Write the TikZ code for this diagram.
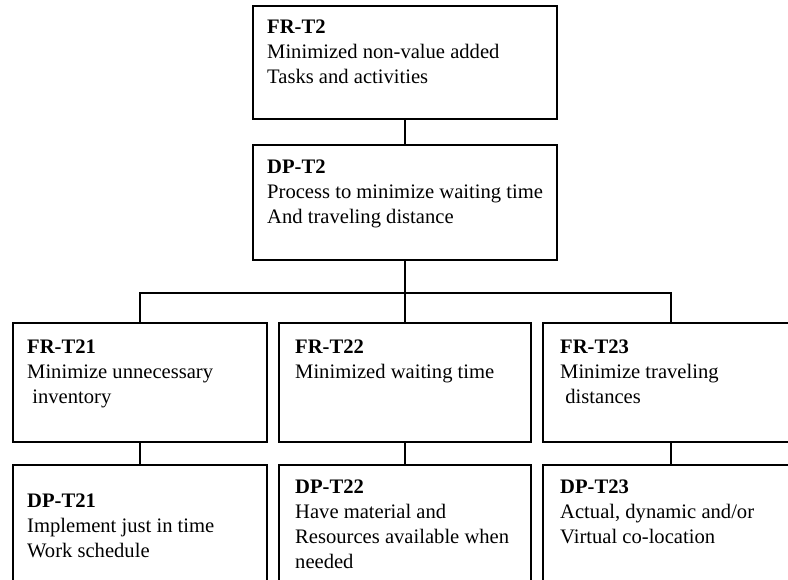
\documentclass[tikz,border=0pt]{standalone}
\usepackage{fontspec}
\setmainfont{Liberation Serif}
\begin{document}
\begin{tikzpicture}[x=1pt,y=-1pt,
  box/.style={draw=black, line width=1.9pt, rectangle, inner sep=0pt, outer sep=0pt, anchor=north west},
  label/.style={anchor=base west, inner sep=0pt, font=\fontsize{20.6}{25}\selectfont},
  link/.style={draw=black, line width=1.9pt}]
\useasboundingbox (0,0) rectangle (788,579);
\clip (0,0) rectangle (788,579);
\newcommand{\boxlines}[1]{\begin{tabular}[t]{@{}l@{}}#1\end{tabular}}

% top level boxes
\node[box, minimum width=304pt, minimum height=113pt] (frt2) at (253,6) {};
\node[box, minimum width=304pt, minimum height=115pt] (dpt2) at (253,145) {};

% second level functional requirements
\node[box, minimum width=254pt, minimum height=119pt] (frt21) at (13,323) {};
\node[box, minimum width=252pt, minimum height=119pt] (frt22) at (279,323) {};
\node[box, minimum width=256pt, minimum height=119pt] (frt23) at (543,323) {};

% second level design parameters
\node[box, minimum width=254pt, minimum height=140pt] (dpt21) at (13,465) {};
\node[box, minimum width=252pt, minimum height=140pt] (dpt22) at (279,465) {};
\node[box, minimum width=256pt, minimum height=140pt] (dpt23) at (543,465) {};

% box texts
\node[label] (tfrt2) at (267,33) {\boxlines{\textbf{FR-T2}\\Minimized non-value added\\Tasks and activities}};
\node[label] (tdpt2) at (267,173) {\boxlines{\textbf{DP-T2}\\Process to minimize waiting time\\And traveling distance}};
\node[label] (tfrt21) at (27,353) {\boxlines{\textbf{FR-T21}\\Minimize unnecessary\\\hspace{0.25em}inventory}};
\node[label] (tfrt22) at (295,353) {\boxlines{\textbf{FR-T22}\\Minimized waiting time}};
\node[label] (tfrt23) at (560,353) {\boxlines{\textbf{FR-T23}\\Minimize traveling\\\hspace{0.25em}distances}};
\node[label] (tdpt21) at (27,507) {\boxlines{\textbf{DP-T21}\\Implement just in time\\Work schedule}};
\node[label] (tdpt22) at (295,493) {\boxlines{\textbf{DP-T22}\\Have material and\\Resources available when\\needed}};
\node[label] (tdpt23) at (560,493) {\boxlines{\textbf{DP-T23}\\Actual, dynamic and/or\\Virtual co-location}};

% connectors
\path (dpt2.south) ++(0,33) coordinate (bar);
\draw[link] (frt2.south) -- (dpt2.north);
\draw[link] (dpt2.south) -- (bar);
\draw[link] (frt21.north) |- (bar) -| (frt23.north);
\draw[link] (bar) -- (frt22.north);
\draw[link] (frt21.south) -- (dpt21.north);
\draw[link] (frt22.south) -- (dpt22.north);
\draw[link] (frt23.south) -- (dpt23.north);
\end{tikzpicture}
\end{document}
